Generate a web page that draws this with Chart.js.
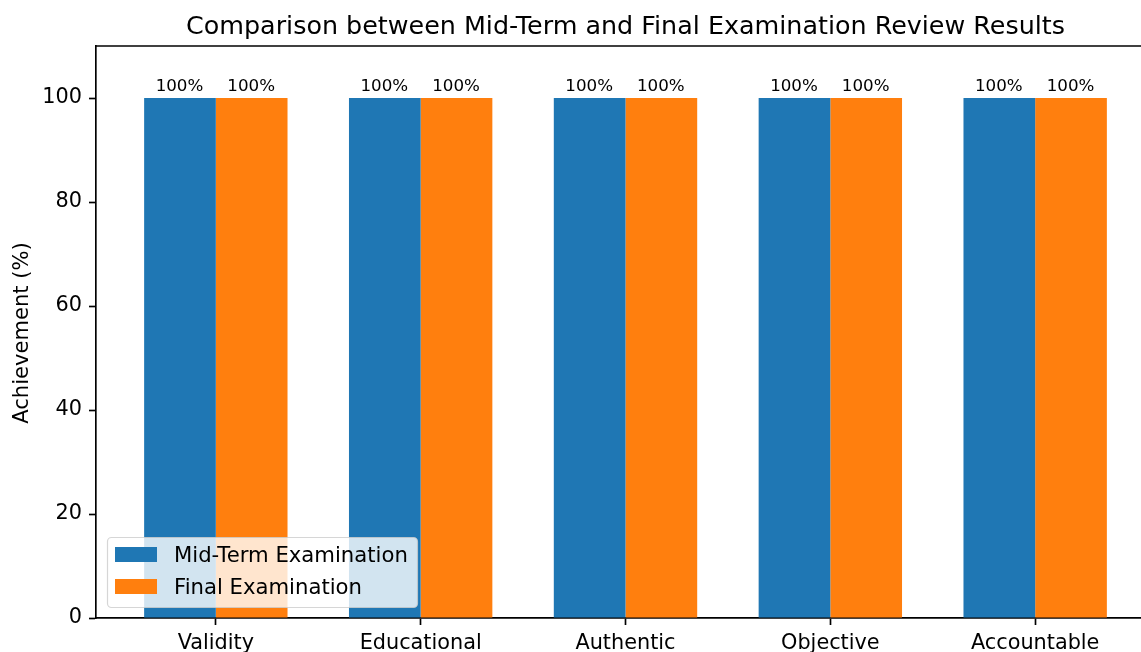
<!DOCTYPE html>
<html>
<head>
<meta charset="utf-8">
<script src="https://cdn.jsdelivr.net/npm/chart.js@4.4.1/dist/chart.umd.min.js"></script>
<style>
  html, body { margin: 0; padding: 0; background: #fff; overflow: hidden; }
  #wrap { width: 1141px; height: 652px; overflow: hidden; position: relative; }
  canvas { display: block; }
</style>
</head>
<body>
<div id="wrap"><canvas id="chart" width="1200" height="700"></canvas></div>
<script>
// data
const categories = ['Validity', 'Educational', 'Authentic', 'Objective', 'Accountable'];
const midTerm = [100, 100, 100, 100, 100];
const finalExam = [100, 100, 100, 100, 100];
const yTicks = [0, 20, 40, 60, 80, 100];

const seriesNames = ['Mid-Term Examination', 'Final Examination'];
const blue = '#1f77b4';
const orange = '#ff7f0e';
const FONT = '"DejaVu Sans", sans-serif';

// top spine, title, y label, value labels and legend box (matplotlib look)
const decorPlugin = {
  id: 'decor',
  afterDatasetsDraw(chart) {
    const ctx = chart.ctx;
    const area = chart.chartArea;
    ctx.save();

    // value labels above bars
    ctx.fillStyle = '#000';
    ctx.font = '16.7px ' + FONT;
    ctx.textAlign = 'center';
    ctx.textBaseline = 'alphabetic';
    chart.data.datasets.forEach((ds, di) => {
      const meta = chart.getDatasetMeta(di);
      meta.data.forEach((bar, i) => {
        ctx.fillText(ds.data[i].y + '%', bar.x - 0.5, bar.y - 7);
      });
    });

    // top spine
    ctx.strokeStyle = '#000';
    ctx.lineWidth = 1.67;
    ctx.beginPath();
    ctx.moveTo(area.left, area.top);
    ctx.lineTo(area.right, area.top);
    ctx.stroke();

    // title
    ctx.font = '25.4px ' + FONT;
    ctx.fillText('Comparison between Mid-Term and Final Examination Review Results',
      (area.left + area.right) / 2, 34);

    // y axis label
    ctx.save();
    ctx.translate(28, (area.top + area.bottom) / 2 + 1);
    ctx.rotate(-Math.PI / 2);
    ctx.font = '21.1px ' + FONT;
    ctx.fillText('Achievement (%)', 0, 0);
    ctx.restore();

    // legend
    const lx = 107, ly = 537, lw = 310, lh = 70, r = 4;
    ctx.beginPath();
    ctx.roundRect(lx + 0.5, ly + 0.5, lw, lh, r);
    ctx.fillStyle = 'rgba(255,255,255,0.8)';
    ctx.fill();
    ctx.strokeStyle = 'rgba(204,204,204,0.8)';
    ctx.lineWidth = 1.2;
    ctx.stroke();

    const colors = [blue, orange];
    ctx.font = '21.2px ' + FONT;
    ctx.textAlign = 'left';
    seriesNames.forEach((name, i) => {
      const cy = 554.5 + i * 32;
      ctx.fillStyle = colors[i];
      ctx.fillRect(115, cy - 7.5, 42, 15);
      ctx.fillStyle = '#000';
      ctx.fillText(name, 174, cy + 7.5);
    });

    ctx.restore();
  }
};

new Chart(document.getElementById('chart'), {
  type: 'bar',
  data: {
    datasets: [
      {
        label: seriesNames[0],
        data: categories.map((c, i) => ({ x: i, y: midTerm[i] })),
        backgroundColor: blue,
        borderWidth: 0
      },
      {
        label: seriesNames[1],
        data: categories.map((c, i) => ({ x: i, y: finalExam[i] })),
        backgroundColor: orange,
        borderWidth: 0
      }
    ]
  },
  options: {
    responsive: false,
    animation: false,
    devicePixelRatio: 1,
    categoryPercentage: 0.7,
    barPercentage: 1.0,
    layout: { padding: { left: 0, top: 46, right: 45, bottom: 0 } },
    plugins: {
      legend: { display: false },
      title: { display: false },
      tooltip: { enabled: false }
    },
    scales: {
      x: {
        type: 'linear',
        min: -0.585,
        max: 4.585,
        offset: false,
        afterBuildTicks: (scale) => { scale.ticks = categories.map((c, i) => ({ value: i })); },
        afterFit: (scale) => { scale.height = 82; },
        ticks: {
          callback: (v) => categories[v],
          color: '#000',
          font: { family: FONT, size: 20.8 },
          padding: 6,
          maxRotation: 0,
          autoSkip: false
        },
        grid: {
          offset: false,
          drawOnChartArea: false,
          drawTicks: true,
          tickLength: 7,
          tickColor: '#000',
          tickWidth: 1.67
        },
        border: { display: true, color: '#000', width: 1.67 }
      },
      y: {
        min: 0,
        max: 110,
        afterBuildTicks: (scale) => { scale.ticks = yTicks.map(v => ({ value: v })); },
        afterFit: (scale) => { scale.width = 96; },
        ticks: {
          color: '#000',
          font: { family: FONT, size: 20.8 },
          padding: 7
        },
        grid: {
          drawOnChartArea: false,
          drawTicks: true,
          tickLength: 7,
          tickColor: '#000',
          tickWidth: 1.67
        },
        border: { display: true, color: '#000', width: 1.67 }
      }
    }
  },
  plugins: [decorPlugin]
});
</script>
</body>
</html>
